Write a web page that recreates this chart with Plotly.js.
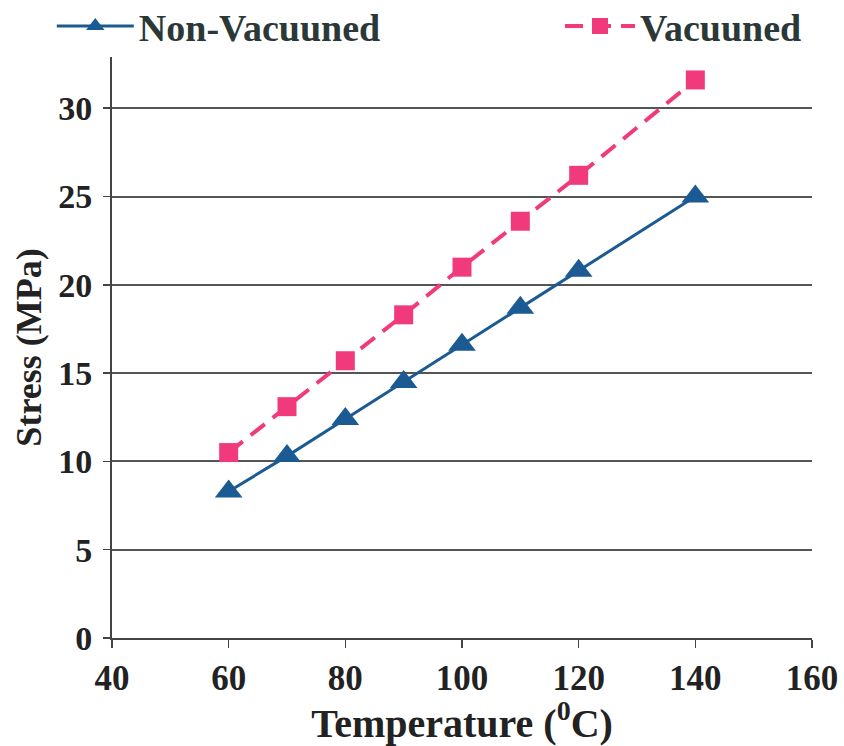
<!DOCTYPE html>
<html>
<head>
<meta charset="utf-8">
<script src="https://cdn.plot.ly/plotly-3.0.1.min.js"></script>
<style>html,body{margin:0;padding:0;background:#fff;}#chart{width:844px;height:746px;}</style>
</head>
<body>
<div id="chart"></div>
<script>
const temperature = [60, 70, 80, 90, 100, 110, 120, 140];
const nonVacuuned = [8.3, 10.3, 12.4, 14.5, 16.6, 18.7, 20.8, 25.0];
const vacuuned = [10.5, 13.1, 15.7, 18.3, 21.0, 23.6, 26.2, 31.6];
const seriesNames = ['Non-Vacuuned', 'Vacuuned'];
const xTicks = [40, 60, 80, 100, 120, 140, 160];
const yTicks = [0, 5, 10, 15, 20, 25, 30];

const serif = 'Liberation Serif, Times New Roman, serif';
const txt = '#222';

const traces = [
  {
    x: temperature, y: nonVacuuned, name: seriesNames[0], type: 'scatter', mode: 'lines+markers',
    line: {color: '#1b5a92', width: 3},
    marker: {symbol: 'triangle-up', size: 24, color: '#1b5a92'},
    legend: 'legend'
  },
  {
    x: temperature, y: vacuuned, name: seriesNames[1], type: 'scatter', mode: 'lines+markers',
    line: {color: '#f03a7c', width: 4, dash: '18px,10px'},
    marker: {symbol: 'square', size: 19, color: '#f03a7c'},
    legend: 'legend2'
  }
];

const legendFont = {family: serif, size: 38, color: '#2b3838', weight: 'bold'};

const layout = {
  width: 844, height: 746,
  margin: {l: 112, r: 32, t: 57, b: 108, autoexpand: false},
  paper_bgcolor: '#fff', plot_bgcolor: '#fff',
  showlegend: true,
  legend: {x: -0.086, y: 1.053, xanchor: 'left', yanchor: 'middle', orientation: 'h', font: legendFont, bgcolor: 'rgba(0,0,0,0)', itemwidth: 77},
  legend2: {x: 0.64, y: 1.053, xanchor: 'left', yanchor: 'middle', orientation: 'h', font: legendFont, bgcolor: 'rgba(0,0,0,0)', itemwidth: 70},
  xaxis: {
    range: [40, 160], tickvals: xTicks, ticktext: xTicks.map(String),
    showgrid: false, zeroline: false,
    showline: true, linecolor: '#444', linewidth: 2,
    ticks: 'outside', ticklen: 8, tickwidth: 1.5, tickcolor: '#444',
    tickfont: {family: serif, size: 35, color: txt, weight: 'bold'},
    title: {text: 'Temperature (<sup>0</sup>C)', font: {family: serif, size: 40, color: txt, weight: 'bold'}, standoff: 2}
  },
  yaxis: {
    range: [0, 32.9], tickvals: yTicks, ticktext: yTicks.map(String),
    showgrid: true, gridcolor: '#555', gridwidth: 2, zeroline: false,
    showline: true, linecolor: '#444', linewidth: 2,
    ticks: 'outside', ticklen: 7, tickwidth: 1.5, tickcolor: '#444',
    ticklabelstandoff: 4,
    tickfont: {family: serif, size: 34, color: txt, weight: 'bold'},
    title: {text: 'Stress (MPa)', font: {family: serif, size: 36, color: txt, weight: 'bold'}, standoff: 6}
  }
};

Plotly.newPlot('chart', traces, layout, {displayModeBar: false, staticPlot: true});
</script>
</body>
</html>
